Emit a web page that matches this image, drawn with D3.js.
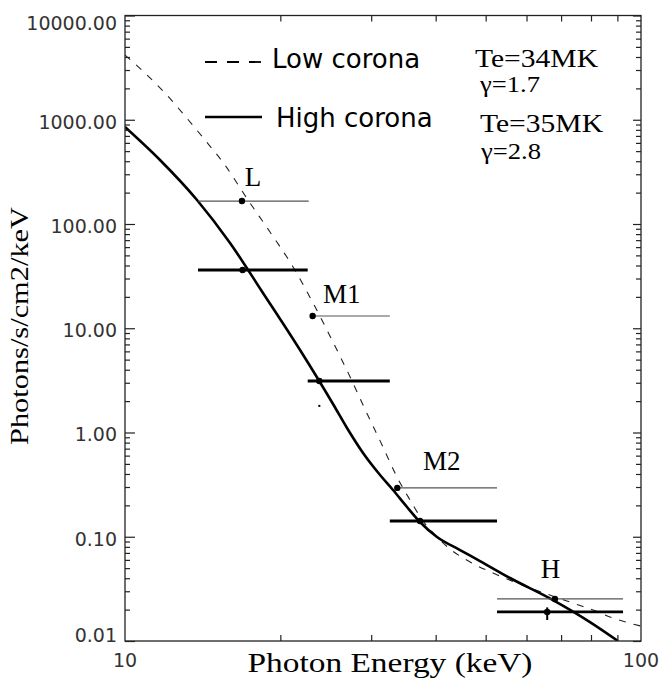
<!DOCTYPE html>
<html>
<head>
<meta charset="utf-8">
<script src="https://cdn.jsdelivr.net/npm/d3@7"></script>
<style>
  body { margin: 0; background: #fff; }
  svg { display: block; }
</style>
</head>
<body>
<svg id="chart" width="660" height="679"></svg>
<script>
// Model spectra: photon energy (keV) and flux (photons/s/cm2/keV)
const lowE  = [10, 10.93, 11.95, 13.07, 14.29, 15.62, 17.31, 19.10, 21.17, 23.14, 25.75, 27.54, 28.93, 31.62, 33.66, 35.68, 37.81, 40.24, 42.65, 46.63, 51.67, 57.51, 65.74, 73.83, 80.71, 88.26, 100];
const lowF  = [4180, 2808, 1806, 1087, 639, 368, 169.9, 83.8, 38.7, 17.5, 6.18, 3.12, 1.835, 0.726, 0.374, 0.225, 0.1416, 0.0995, 0.0763, 0.0573, 0.0449, 0.036, 0.0282, 0.0231, 0.0198, 0.0166, 0.0139];
const highE = [10, 11.69, 13.79, 15.98, 18.51, 21.84, 25.30, 26.93, 28.93, 31.21, 33.07, 35.20, 37.30, 40.24, 44.60, 48.75, 55.74, 67.53, 79.64, 90.25];
const highF = [852, 411, 169.9, 65.7, 21.8, 6.18, 1.877, 1.105, 0.636, 0.391, 0.281, 0.193, 0.1385, 0.0995, 0.0746, 0.0585, 0.0402, 0.0247, 0.0152, 0.0100];

// Observed fluxes in the four energy bands
const bandNames = ["L", "M1", "M2", "H"];
const labelE = [17.7, 26.3, 41.1, 66.8];
const labelF = [231, 17.5, 0.436, 0.0402];

// low corona (thin bars)
const lowObsE  = [16.85, 23.1, 33.7, 68.1];
const lowObsF  = [166, 13.1, 0.294, 0.0253];
const lowObsLo = [13.85, 23.1, 33.7, 52.6];
const lowObsHi = [22.7, 32.6, 52.6, 92.3];

// high corona (thick bars)
const highObsE  = [16.9, 23.8, 37.3, 65.8];
const highObsF  = [36.2, 3.12, 0.1416, 0.0190];
const highObsLo = [13.85, 22.6, 32.6, 52.6];
const highObsHi = [22.6, 32.6, 52.6, 92.3];
const highObsErrLo = [null, 1.76, null, 0.0159];
const highObsErrHi = [null, 1.84, null, 0.0210];

// Axis ticks
const yTicks = [0.01, 0.1, 1, 10, 100, 1000, 10000];
const xTicks = [10, 100];

const svg = d3.select("svg#chart");
const mLeft = 125, mRight = 641, mTop = 15.5, mBottom = 641;

const x = d3.scaleLog().domain([10, 100]).range([mLeft, mRight]);
const y = d3.scaleLog().domain([0.01, 10000]).range([mBottom, mTop]);

const serif = "'Liberation Serif', 'Times New Roman', serif";
const sans = "'DejaVu Sans', sans-serif";

// clip for curves
svg.append("clipPath").attr("id", "plotClip")
  .append("rect")
  .attr("x", mLeft).attr("y", mTop)
  .attr("width", mRight - mLeft).attr("height", mBottom - mTop);

const plot = svg.append("g").attr("clip-path", "url(#plotClip)");

// Curves
const line = d3.line()
  .x(d => x(d[0]))
  .y(d => y(d[1]))
  .curve(d3.curveMonotoneX);

plot.append("path")
  .datum(d3.zip(lowE, lowF))
  .attr("d", line)
  .attr("fill", "none")
  .attr("stroke", "#222")
  .attr("stroke-width", 1.1)
  .attr("stroke-dasharray", "7,8");

plot.append("path")
  .datum(d3.zip(highE, highF))
  .attr("d", line)
  .attr("fill", "none")
  .attr("stroke", "#000")
  .attr("stroke-width", 2.6);

// Band measurements
const lowObs = bandNames.map((n, i) => ({lo: lowObsLo[i], hi: lowObsHi[i], e: lowObsE[i], f: lowObsF[i]}));
const highObs = bandNames.map((n, i) => ({lo: highObsLo[i], hi: highObsHi[i], e: highObsE[i], f: highObsF[i],
  eLo: highObsErrLo[i], eHi: highObsErrHi[i]}));

plot.selectAll(".lowBar")
  .data(lowObs)
  .join("line")
    .attr("class", "lowBar")
    .attr("x1", d => x(d.lo)).attr("x2", d => x(d.hi))
    .attr("y1", d => y(d.f)).attr("y2", d => y(d.f))
    .attr("stroke", "#555")
    .attr("stroke-width", 1.2);

plot.selectAll(".highBar")
  .data(highObs)
  .join("line")
    .attr("class", "highBar")
    .attr("x1", d => x(d.lo)).attr("x2", d => x(d.hi))
    .attr("y1", d => y(d.f)).attr("y2", d => y(d.f))
    .attr("stroke", "#000")
    .attr("stroke-width", 2.8);

plot.selectAll(".errBar")
  .data(highObs.filter(d => d.eLo != null))
  .join("line")
    .attr("class", "errBar")
    .attr("x1", d => x(d.e)).attr("x2", d => x(d.e))
    .attr("y1", d => y(d.eLo)).attr("y2", d => y(d.eHi))
    .attr("stroke", "#000")
    .attr("stroke-width", 2);

plot.selectAll(".lowDot")
  .data(lowObs)
  .join("circle")
    .attr("class", "lowDot")
    .attr("cx", d => x(d.e)).attr("cy", d => y(d.f))
    .attr("r", 3.2)
    .attr("fill", "#000");

plot.selectAll(".highDot")
  .data(highObs)
  .join("circle")
    .attr("class", "highDot")
    .attr("cx", d => x(d.e)).attr("cy", d => y(d.f))
    .attr("r", 3.2)
    .attr("fill", "#000");

// Band labels
svg.selectAll(".bandLabel")
  .data(bandNames)
  .join("text")
    .attr("class", "bandLabel")
    .attr("x", (d, i) => x(labelE[i]))
    .attr("y", (d, i) => y(labelF[i]))
    .attr("text-anchor", "middle")
    .style("font-family", serif)
    .style("font-size", "27px")
    .text(d => d);

// Axes box
svg.append("rect")
  .attr("x", mLeft).attr("y", mTop)
  .attr("width", mRight - mLeft).attr("height", mBottom - mTop)
  .attr("fill", "none")
  .attr("stroke", "#222")
  .attr("stroke-width", 1.3);

const yMinor = y.ticks().filter(v => !yTicks.includes(v));
const xMinor = x.ticks().filter(v => !xTicks.includes(v));

function tickAxis(axis, transform) {
  const g = svg.append("g")
    .attr("transform", transform)
    .call(axis.tickFormat(""));
  g.select(".domain").remove();
  g.selectAll(".tick line").attr("stroke", "#222").attr("stroke-width", 1.2);
  return g;
}

// inward ticks on all four sides
tickAxis(d3.axisLeft(y).tickValues(yTicks).tickSize(-10), `translate(${mLeft},0)`);
tickAxis(d3.axisLeft(y).tickValues(yMinor).tickSize(-5), `translate(${mLeft},0)`);
tickAxis(d3.axisRight(y).tickValues(yTicks).tickSize(-8), `translate(${mRight},0)`);
tickAxis(d3.axisRight(y).tickValues(yMinor).tickSize(-5), `translate(${mRight},0)`);
tickAxis(d3.axisBottom(x).tickValues(xMinor).tickSize(-6), `translate(0,${mBottom})`);
tickAxis(d3.axisTop(x).tickValues(xMinor).tickSize(-6), `translate(0,${mTop})`);

// Tick labels
svg.selectAll(".yLabel")
  .data(yTicks)
  .join("text")
    .attr("class", "yLabel")
    .attr("x", 117)
    .attr("y", d => Math.min(Math.max(y(d) + 2, 23), 635))
    .attr("dy", "0.36em")
    .attr("text-anchor", "end")
    .attr("fill", "#333")
    .style("font-family", sans)
    .style("font-size", "19px")
    .text(d => d3.format(".2f")(d));

svg.selectAll(".xLabel")
  .data(xTicks)
  .join("text")
    .attr("class", "xLabel")
    .attr("x", d => x(d))
    .attr("y", 667)
    .attr("text-anchor", "middle")
    .attr("fill", "#333")
    .style("font-family", sans)
    .style("font-size", "19px")
    .text(d => d);

// Axis titles
svg.append("text")
  .attr("x", 390)
  .attr("y", 672)
  .attr("text-anchor", "middle")
  .attr("textLength", 285)
  .attr("lengthAdjust", "spacingAndGlyphs")
  .style("font-family", serif)
  .style("font-size", "27px")
  .text("Photon Energy (keV)");

svg.append("text")
  .attr("transform", "translate(28,326) rotate(-90)")
  .attr("text-anchor", "middle")
  .attr("textLength", 238)
  .attr("lengthAdjust", "spacingAndGlyphs")
  .style("font-family", serif)
  .style("font-size", "26px")
  .text("Photons/s/cm2/keV");

// Legend
const legend = svg.append("g").attr("class", "legend");

legend.append("line")
  .attr("x1", 205).attr("x2", 262)
  .attr("y1", 62).attr("y2", 62)
  .attr("stroke", "#000")
  .attr("stroke-width", 1.8)
  .attr("stroke-dasharray", "12,10");

legend.append("text")
  .attr("x", 272).attr("y", 68)
  .style("font-family", sans)
  .style("font-size", "26px")
  .text("Low corona");

legend.append("line")
  .attr("x1", 205).attr("x2", 262)
  .attr("y1", 117).attr("y2", 117)
  .attr("stroke", "#000")
  .attr("stroke-width", 2.6);

legend.append("text")
  .attr("x", 276).attr("y", 127)
  .style("font-family", sans)
  .style("font-size", "26px")
  .text("High corona");

// Fit parameters
const params = [
  {t: "Te=34MK", x: 475, y: 67, w: 123, s: 26},
  {t: "\u03b3=1.7", x: 480, y: 92, w: 60, s: 24},
  {t: "Te=35MK", x: 480, y: 132, w: 123, s: 26},
  {t: "\u03b3=2.8", x: 481, y: 159, w: 60, s: 24}
];

svg.selectAll(".param")
  .data(params)
  .join("text")
    .attr("class", "param")
    .attr("x", d => d.x)
    .attr("y", d => d.y)
    .attr("textLength", d => d.w)
    .attr("lengthAdjust", "spacingAndGlyphs")
    .style("font-family", serif)
    .style("font-size", d => d.s + "px")
    .text(d => d.t);
</script>
</body>
</html>
